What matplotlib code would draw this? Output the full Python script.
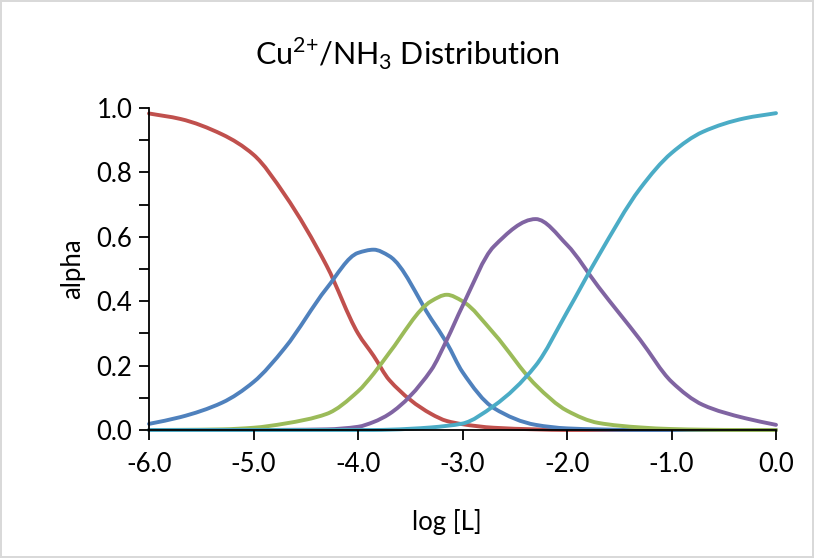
import numpy as np
import matplotlib
matplotlib.use("Agg")
import matplotlib.pyplot as plt
from matplotlib.path import Path
from matplotlib.patches import PathPatch
from matplotlib.ticker import MultipleLocator, FormatStrFormatter

plt.rcParams['font.family'] = ['Lato', 'DejaVu Sans']
plt.rcParams['mathtext.fontset'] = 'custom'
plt.rcParams['mathtext.rm'] = 'Lato'
plt.rcParams['axes.unicode_minus'] = False

# log [L] values (1-2-5 steps plus a few points near the peaks)
log_L = [-6.0, -5.7, -5.3, -5.0, -4.7, -4.3, -4.0, -3.85, -3.7, -3.3, -3.15,
         -3.0, -2.7, -2.3, -2.0, -1.7, -1.3, -1.0, -0.7, -0.3, 0.0]

# fractions
alpha0 = [0.983, 0.966, 0.918, 0.855, 0.73, 0.51, 0.30, 0.23, 0.155, 0.05, 0.028,
          0.018, 0.007, 0.002, 0.0, 0.0, 0.0, 0.0, 0.0, 0.0, 0.0]
alpha1 = [0.019, 0.04, 0.085, 0.149, 0.255, 0.44, 0.55, 0.56, 0.54, 0.345, 0.27,
          0.18, 0.068, 0.016, 0.005, 0.002, 0.0, 0.0, 0.0, 0.0, 0.0]
alpha2 = [0.0, 0.0005, 0.002, 0.007, 0.02, 0.05, 0.12, 0.175, 0.24, 0.40, 0.42,
          0.40, 0.30, 0.14, 0.06, 0.022, 0.008, 0.003, 0.001, 0.0, 0.0]
alpha3 = [0.0, 0.0, 0.0, 0.0, 0.0005, 0.002, 0.01, 0.025, 0.05, 0.186, 0.28,
          0.385, 0.57, 0.655, 0.575, 0.445, 0.28, 0.15, 0.078, 0.037, 0.016]
alpha4 = [0.0, 0.0, 0.0, 0.0, 0.0, 0.0, 0.0, 0.0, 0.001, 0.008, 0.013,
          0.02, 0.075, 0.2, 0.366, 0.54, 0.75, 0.86, 0.926, 0.968, 0.984]

colors = ['#C0504D', '#4F81BD', '#9BBB59', '#8064A2', '#4BACC6']


def smooth_path(x, y):
    # monotone cubic bezier through the points (smoothed line look)
    x = np.asarray(x, float)
    y = np.asarray(y, float)
    h = np.diff(x)
    d = np.diff(y) / h
    n = len(x)
    m = np.zeros(n)
    m[0], m[-1] = d[0], d[-1]
    for i in range(1, n - 1):
        if d[i - 1] * d[i] <= 0:
            m[i] = 0.0
        else:
            w1 = 2 * h[i] + h[i - 1]
            w2 = h[i] + 2 * h[i - 1]
            m[i] = (w1 + w2) / (w1 / d[i - 1] + w2 / d[i])
    verts = [(x[0], y[0])]
    codes = [Path.MOVETO]
    for i in range(n - 1):
        verts += [(x[i] + h[i] / 3, y[i] + m[i] * h[i] / 3),
                  (x[i + 1] - h[i] / 3, y[i + 1] - m[i + 1] * h[i] / 3),
                  (x[i + 1], y[i + 1])]
        codes += [Path.CURVE4] * 3
    return Path(verts, codes)


fig = plt.figure(figsize=(8.14, 5.58), dpi=100)
fig.patch.set_edgecolor('#D9D9D9')
fig.patch.set_linewidth(1.5)
ax = fig.add_axes([149/814, 1 - 430/558, (776 - 149)/814, (430 - 108)/558])

for ys, c in zip([alpha0, alpha1, alpha2, alpha3, alpha4], colors):
    ax.add_patch(PathPatch(smooth_path(log_L, ys), facecolor='none', edgecolor=c,
                           lw=2.8, capstyle='round', joinstyle='round', clip_on=False))

ax.set_xlim(-6, 0)
ax.set_ylim(0, 1.0)
ax.xaxis.set_major_locator(MultipleLocator(1.0))
ax.yaxis.set_major_locator(MultipleLocator(0.2))
ax.yaxis.set_minor_locator(MultipleLocator(0.1))
ax.xaxis.set_major_formatter(FormatStrFormatter('%.1f'))
ax.yaxis.set_major_formatter(FormatStrFormatter('%.1f'))

for s in ['top', 'right']:
    ax.spines[s].set_visible(False)
for s in ['left', 'bottom']:
    ax.spines[s].set_linewidth(1.3)
ax.tick_params(which='both', direction='out', length=7, width=1.3, labelsize=18.5)
ax.tick_params(axis='x', pad=9)
ax.tick_params(axis='y', pad=5)

ax.set_xlabel('log [L]', fontsize=18.5)
ax.set_ylabel('alpha', fontsize=18.5)
ax.xaxis.set_label_coords((447 - 149)/(776 - 149), -0.245)
ax.yaxis.set_label_coords((85 - 149)/(776 - 149), 0.5)

fig.text(0.5, 1 - 54/558, 'Cu$^{2{+}}$/NH$_3$ Distribution', ha='center', va='center',
         fontsize=22)

fig.savefig('out.png', dpi=100)
